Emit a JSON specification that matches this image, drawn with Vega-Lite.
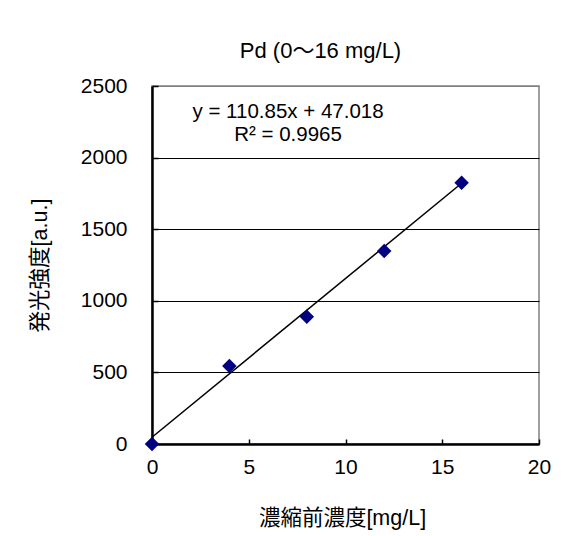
{
  "$schema": "https://vega.github.io/schema/vega-lite/v6.json",
  "width": 387,
  "height": 358,
  "autosize": {"type": "none"},
  "padding": {"left": 152, "top": 86, "right": 32, "bottom": 92},
  "background": "white",
  "config": {
    "font": "'Liberation Sans', 'Noto Sans CJK JP', sans-serif",
    "view": {"stroke": "#808080", "strokeWidth": 1.5}
  },
  "title": {
    "text": "Pd (0〜16 mg/L)",
    "fontSize": 22,
    "fontWeight": "normal",
    "color": "black",
    "anchor": "middle",
    "dx": -25,
    "offset": 12
  },
  "datasets": {
    "points": [
      {"conc": 0, "intensity": 0},
      {"conc": 4, "intensity": 545},
      {"conc": 8, "intensity": 889},
      {"conc": 12, "intensity": 1348},
      {"conc": 16, "intensity": 1825}
    ],
    "trend": [
      {"conc": 0, "intensity": 47.018},
      {"conc": 16, "intensity": 1820.618}
    ],
    "note": [
      {"conc": 7.03, "intensity": 2318, "label": "y = 110.85x + 47.018\nR² = 0.9965"}
    ]
  },
  "layer": [
    {
      "data": {"name": "trend"},
      "mark": {"type": "line", "color": "black", "strokeWidth": 1.5},
      "encoding": {
        "x": {
          "field": "conc", "type": "quantitative",
          "scale": {"domain": [0, 20], "nice": false},
          "axis": {
            "values": [0, 5, 10, 15, 20],
            "format": "d",
            "grid": false,
            "domainColor": "black", "domainWidth": 2.5,
            "tickColor": "black", "tickSize": -5, "tickWidth": 1.5,
            "labelFontSize": 21, "labelColor": "black", "labelPadding": 28,
            "labelBaseline": "middle", "labelFlush": false,
            "title": "濃縮前濃度[mg/L]",
            "titleFontSize": 21.5, "titleFontWeight": "normal", "titleColor": "black",
            "titleX": 190, "titleY": 74, "titleBaseline": "middle", "titleAlign": "center"
          }
        },
        "y": {
          "field": "intensity", "type": "quantitative",
          "scale": {"domain": [0, 2500], "nice": false},
          "axis": {
            "values": [0, 500, 1000, 1500, 2000, 2500],
            "format": "d",
            "grid": true,
            "gridColor": {"condition": {"test": "datum.value === 2500", "value": "#808080"}, "value": "black"},
            "gridWidth": 1.2,
            "domainColor": "black", "domainWidth": 2.5,
            "tickColor": "black", "tickSize": -6, "tickWidth": 1.5,
            "labelFontSize": 21, "labelColor": "black", "labelPadding": 31,
            "labelFlush": false,
            "title": "発光強度[a.u.]",
            "titleFontSize": 21.5, "titleFontWeight": "normal", "titleColor": "black",
            "titleX": -112, "titleY": 179, "titleAngle": -90,
            "titleBaseline": "middle", "titleAlign": "center"
          }
        }
      }
    },
    {
      "data": {"name": "points"},
      "mark": {"type": "point", "shape": "diamond", "filled": true, "color": "#000080", "size": 210, "opacity": 1},
      "encoding": {
        "x": {"field": "conc", "type": "quantitative"},
        "y": {"field": "intensity", "type": "quantitative"}
      }
    },
    {
      "data": {"name": "note"},
      "mark": {
        "type": "text",
        "fontSize": 20.5,
        "lineHeight": 23,
        "lineBreak": "\n",
        "align": "center",
        "baseline": "middle",
        "color": "black"
      },
      "encoding": {
        "x": {"field": "conc", "type": "quantitative"},
        "y": {"field": "intensity", "type": "quantitative"},
        "text": {"field": "label"}
      }
    }
  ]
}
